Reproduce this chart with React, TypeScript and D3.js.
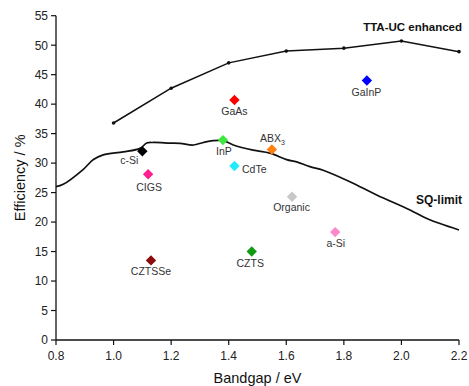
import React from "react";
import * as d3 from "d3";

const W = 469;
const H = 386;

// TTA-UC enhanced curve
const ttaX = [1.0, 1.2, 1.4, 1.6, 1.8, 2.0, 2.2];
const ttaY = [36.8, 42.7, 47.0, 49.0, 49.5, 50.7, 48.9];

// SQ limit curve
const sqX = [0.8, 0.825, 0.895, 0.93, 0.964, 1.034, 1.092, 1.115, 1.138, 1.196, 1.231, 1.277, 1.312, 1.346, 1.381, 1.416, 1.485, 1.543, 1.601, 1.636, 1.682, 1.728, 1.821, 1.914, 2.03, 2.088, 2.2];
const sqY = [26.0, 26.4, 28.95, 30.6, 31.4, 31.9, 32.5, 33.4, 33.5, 33.4, 33.35, 33.07, 33.5, 33.8, 33.8, 33.07, 32.2, 31.7, 30.6, 30.2, 29.4, 28.8, 26.85, 24.6, 22.05, 20.6, 18.66];

// Materials
const materials = ["c-Si", "CIGS", "GaAs", "InP", "CdTe", "ABX3", "GaInP", "Organic", "a-Si", "CZTS", "CZTSSe"];
const bandgaps = [1.10, 1.12, 1.42, 1.38, 1.42, 1.55, 1.88, 1.62, 1.77, 1.48, 1.13];
const efficiencies = [32.0, 28.1, 40.7, 33.9, 29.5, 32.3, 44.0, 24.3, 18.3, 15.0, 13.5];
const colors = ["#000000", "#ff1f8f", "#ff0000", "#3ee83e", "#22eaff", "#ff8010", "#0000ff", "#c8c8c8", "#ff88cc", "#129a12", "#8b0a0a"];

const xTicks = [0.8, 1.0, 1.2, 1.4, 1.6, 1.8, 2.0, 2.2];
const yTicks = [0, 5, 10, 15, 20, 25, 30, 35, 40, 45, 50, 55];

// label placement (style): dx, dy, anchor
const labelPos: Record<string, [number, number, string]> = {
  "c-Si": [-4, 9, "end"],
  "CIGS": [1, 13, "middle"],
  "GaAs": [0, 11, "middle"],
  "InP": [1, 11.5, "middle"],
  "CdTe": [7.5, 3.3, "start"],
  "ABX3": [-12, -11.5, "start"],
  "GaInP": [-0.5, 12, "middle"],
  "Organic": [-0.5, 10.5, "middle"],
  "a-Si": [0.5, 11.3, "middle"],
  "CZTS": [-1.5, 11.7, "middle"],
  "CZTSSe": [0, 11.3, "middle"],
};

const M = { left: 56, right: 459, top: 15.7, bottom: 340 };

export default function App() {
  const x = d3.scaleLinear().domain([0.8, 2.2]).range([M.left, M.right]);
  const y = d3.scaleLinear().domain([0, 55]).range([M.bottom, M.top]);

  const ttaLine = d3.line<number>().x((_, i) => x(ttaX[i])).y((d) => y(d));
  const sqLine = d3
    .line<number>()
    .x((_, i) => x(sqX[i]))
    .y((d) => y(d))
    .curve(d3.curveCatmullRom.alpha(0.5));

  const font = "Liberation Sans, Arial, sans-serif";
  const diamond = (cx: number, cy: number, r: number) =>
    `M${cx},${cy - r}L${cx + r},${cy}L${cx},${cy + r}L${cx - r},${cy}Z`;

  return (
    <svg
      width={W}
      height={H}
      style={{ position: "absolute", left: 0, top: 0, background: "#fff" }}
      fontFamily={font}
    >
      {/* axes */}
      <line x1={M.left} x2={M.left} y1={y(55)} y2={y(0)} stroke="#111" strokeWidth={1.3} />
      <line x1={M.left} x2={M.right} y1={y(0)} y2={y(0)} stroke="#111" strokeWidth={1.3} />
      {yTicks.map((t) => (
        <g key={"y" + t}>
          <line x1={M.left - 5} x2={M.left} y1={y(t)} y2={y(t)} stroke="#111" strokeWidth={1.2} />
          <text x={M.left - 8} y={y(t)} dy="0.36em" textAnchor="end" fontSize={12} fill="#222">
            {t}
          </text>
        </g>
      ))}
      {xTicks.map((t) => (
        <g key={"x" + t}>
          <line x1={x(t)} x2={x(t)} y1={y(0)} y2={y(0) + 5} stroke="#111" strokeWidth={1.2} />
          <text x={x(t)} y={y(0) + 16} dy="0.36em" textAnchor="middle" fontSize={12} fill="#222">
            {t.toFixed(1)}
          </text>
        </g>
      ))}
      <text x={(M.left + M.right) / 2} y={378} dy="0.36em" textAnchor="middle" fontSize={14.5} fill="#111">
        Bandgap / eV
      </text>
      <text
        transform={`translate(20,${(M.top + M.bottom) / 2}) rotate(-90)`}
        dy="0.36em"
        textAnchor="middle"
        fontSize={14.5}
        fill="#111"
      >
        Efficiency / %
      </text>

      {/* curves */}
      <path d={sqLine(sqY) || ""} fill="none" stroke="#111" strokeWidth={1.7} />
      <path d={ttaLine(ttaY) || ""} fill="none" stroke="#111" strokeWidth={1.5} />
      {ttaY.map((v, i) => (
        <circle key={"tp" + i} cx={x(ttaX[i])} cy={y(v)} r={1.8} fill="#111" />
      ))}
      <text x={462} y={26.7} dy="0.36em" textAnchor="end" fontSize={11.5} fontWeight="bold" fill="#111">
        TTA-UC enhanced
      </text>
      <text x={462} y={200} dy="0.36em" textAnchor="end" fontSize={12} fontWeight="bold" fill="#111">
        SQ-limit
      </text>

      {/* materials */}
      {materials.map((m, i) => {
        const cx = x(bandgaps[i]);
        const cy = y(efficiencies[i]);
        const [dx, dy, anchor] = labelPos[m];
        return (
          <g key={m}>
            <path d={diamond(cx, cy, 5.2)} fill={colors[i]} />
            <text
              x={cx + dx}
              y={cy + dy}
              dy="0.36em"
              textAnchor={anchor as any}
              fontSize={10.5}
              fill="#333"
            >
              {m === "ABX3" ? (
                <>
                  ABX<tspan fontSize={7} dy="3">3</tspan>
                </>
              ) : (
                m
              )}
            </text>
          </g>
        );
      })}
    </svg>
  );
}
